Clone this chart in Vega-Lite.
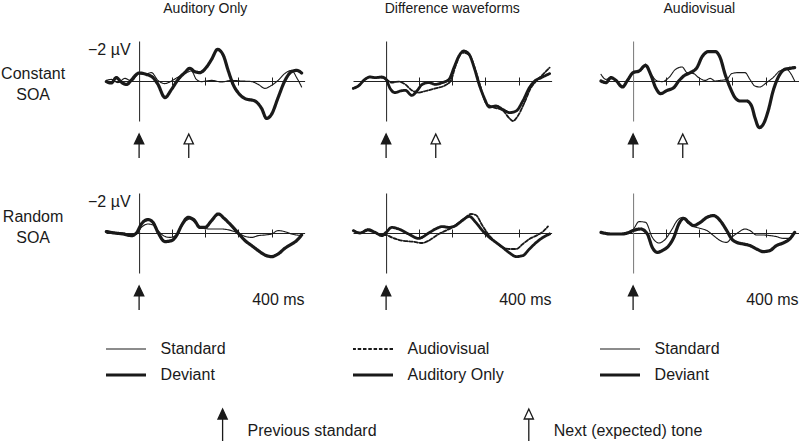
{
"$schema": "https://vega.github.io/schema/vega-lite/v6.json",
"padding": {"left": 0, "top": 2, "right": 0, "bottom": 0},
"autosize": {"type": "pad"},
"background": "white",
"config": {
  "font": "Liberation Sans",
  "view": {"stroke": null},
  "axis": {"labelFont": "Liberation Sans", "labelFontSize": 16, "labelColor": "#1a1a1a", "domainColor": "#222", "tickColor": "#222", "titleFont": "Liberation Sans", "titleFontSize": 16, "titleFontWeight": "normal", "titleColor": "#1a1a1a"},
  "text": {"font": "Liberation Sans", "fontSize": 16, "color": "#1a1a1a"},
  "title": {"font": "Liberation Sans", "fontSize": 14, "fontWeight": "normal", "color": "#1a1a1a", "offset": 25, "anchor": "middle"}
},
"datasets": {
  "arrows": [
    {"soa": "Constant", "kind": "Previous standard", "t": 0},
    {"soa": "Constant", "kind": "Next (expected) tone", "t": 150},
    {"soa": "Random", "kind": "Previous standard", "t": 0}
  ],
  "constant_auditory": [
    {"series":"Deviant","t":-99,"v":0.03},{"series":"Deviant","t":-84,"v":0.1},{"series":"Deviant","t":-69,"v":-0.17},{"series":"Deviant","t":-53,"v":0.07},{"series":"Deviant","t":-38,"v":0.17},{"series":"Deviant","t":-23,"v":-0.05},{"series":"Deviant","t":-10,"v":-0.3},{"series":"Deviant","t":0,"v":-0.4},{"series":"Deviant","t":22,"v":-0.33},{"series":"Deviant","t":42,"v":-0.17},{"series":"Deviant","t":57,"v":0.17},{"series":"Deviant","t":78,"v":0.83},{"series":"Deviant","t":98,"v":0.42},{"series":"Deviant","t":118,"v":-0.08},{"series":"Deviant","t":138,"v":-0.42},{"series":"Deviant","t":153,"v":-0.63},{"series":"Deviant","t":168,"v":-0.47},{"series":"Deviant","t":183,"v":-0.42},{"series":"Deviant","t":204,"v":-0.7},{"series":"Deviant","t":219,"v":-1.08},{"series":"Deviant","t":237,"v":-1.58},{"series":"Deviant","t":254,"v":-1.3},{"series":"Deviant","t":269,"v":-0.53},{"series":"Deviant","t":284,"v":0.17},{"series":"Deviant","t":299,"v":0.58},{"series":"Deviant","t":320,"v":0.88},{"series":"Deviant","t":350,"v":1.0},{"series":"Deviant","t":370,"v":1.37},{"series":"Deviant","t":385,"v":1.87},{"series":"Deviant","t":400,"v":1.67},{"series":"Deviant","t":420,"v":0.83},{"series":"Deviant","t":440,"v":0},{"series":"Deviant","t":461,"v":-0.47},{"series":"Deviant","t":476,"v":-0.53},{"series":"Deviant","t":491,"v":-0.4},
    {"series":"Standard","t":-99,"v":-0.03},{"series":"Standard","t":-84,"v":-0.08},{"series":"Standard","t":-64,"v":0.08},{"series":"Standard","t":-43,"v":-0.13},{"series":"Standard","t":-23,"v":0},{"series":"Standard","t":0,"v":-0.37},{"series":"Standard","t":17,"v":-0.33},{"series":"Standard","t":37,"v":-0.42},{"series":"Standard","t":57,"v":-0.03},{"series":"Standard","t":78,"v":0.13},{"series":"Standard","t":98,"v":0},{"series":"Standard","t":118,"v":-0.2},{"series":"Standard","t":138,"v":-0.37},{"series":"Standard","t":158,"v":-0.5},{"series":"Standard","t":173,"v":-0.08},{"series":"Standard","t":188,"v":0.03},{"series":"Standard","t":219,"v":-0.03},{"series":"Standard","t":249,"v":0.05},{"series":"Standard","t":279,"v":-0.03},{"series":"Standard","t":309,"v":0},{"series":"Standard","t":340,"v":0.03},{"series":"Standard","t":360,"v":0.17},{"series":"Standard","t":380,"v":0.37},{"series":"Standard","t":400,"v":0.22},{"series":"Standard","t":420,"v":-0.03},{"series":"Standard","t":440,"v":-0.37},{"series":"Standard","t":461,"v":-0.53},{"series":"Standard","t":476,"v":-0.17},{"series":"Standard","t":491,"v":0.3}
  ],
  "constant_difference": [
    {"series":"Auditory Only","t":-99,"v":0.37},{"series":"Auditory Only","t":-84,"v":0.25},{"series":"Auditory Only","t":-64,"v":-0.08},{"series":"Auditory Only","t":-49,"v":-0.2},{"series":"Auditory Only","t":-33,"v":-0.17},{"series":"Auditory Only","t":-13,"v":-0.2},{"series":"Auditory Only","t":0,"v":-0.08},{"series":"Auditory Only","t":12,"v":0.37},{"series":"Auditory Only","t":27,"v":0.58},{"series":"Auditory Only","t":43,"v":0.5},{"series":"Auditory Only","t":58,"v":0.47},{"series":"Auditory Only","t":78,"v":0.72},{"series":"Auditory Only","t":93,"v":0.5},{"series":"Auditory Only","t":109,"v":0.17},{"series":"Auditory Only","t":129,"v":0.08},{"series":"Auditory Only","t":149,"v":0.17},{"series":"Auditory Only","t":170,"v":0.08},{"series":"Auditory Only","t":190,"v":-0.08},{"series":"Auditory Only","t":205,"v":-0.67},{"series":"Auditory Only","t":220,"v":-1.25},{"series":"Auditory Only","t":235,"v":-1.5},{"series":"Auditory Only","t":251,"v":-1.33},{"series":"Auditory Only","t":266,"v":-0.67},{"series":"Auditory Only","t":281,"v":0.17},{"series":"Auditory Only","t":296,"v":0.83},{"series":"Auditory Only","t":312,"v":1.3},{"series":"Auditory Only","t":332,"v":1.25},{"series":"Auditory Only","t":352,"v":1.42},{"series":"Auditory Only","t":373,"v":1.58},{"series":"Auditory Only","t":393,"v":1.5},{"series":"Auditory Only","t":413,"v":1.0},{"series":"Auditory Only","t":433,"v":0.33},{"series":"Auditory Only","t":449,"v":0},{"series":"Auditory Only","t":469,"v":-0.17},{"series":"Auditory Only","t":494,"v":-0.37},
    {"series":"Audiovisual","t":-99,"v":0.37},{"series":"Audiovisual","t":-84,"v":0.25},{"series":"Audiovisual","t":-64,"v":-0.08},{"series":"Audiovisual","t":-49,"v":-0.2},{"series":"Audiovisual","t":-33,"v":-0.17},{"series":"Audiovisual","t":-13,"v":-0.17},{"series":"Audiovisual","t":0,"v":-0.08},{"series":"Audiovisual","t":17,"v":0.08},{"series":"Audiovisual","t":38,"v":0.03},{"series":"Audiovisual","t":58,"v":0.17},{"series":"Audiovisual","t":78,"v":0.47},{"series":"Audiovisual","t":98,"v":0.58},{"series":"Audiovisual","t":119,"v":0.5},{"series":"Audiovisual","t":149,"v":0.37},{"series":"Audiovisual","t":180,"v":0.2},{"series":"Audiovisual","t":195,"v":0},{"series":"Audiovisual","t":210,"v":-0.75},{"series":"Audiovisual","t":230,"v":-1.42},{"series":"Audiovisual","t":251,"v":-1.3},{"series":"Audiovisual","t":271,"v":-0.5},{"series":"Audiovisual","t":286,"v":0.33},{"series":"Audiovisual","t":301,"v":1.08},{"series":"Audiovisual","t":322,"v":1.3},{"series":"Audiovisual","t":352,"v":1.47},{"series":"Audiovisual","t":373,"v":1.87},{"series":"Audiovisual","t":383,"v":2.0},{"series":"Audiovisual","t":398,"v":1.75},{"series":"Audiovisual","t":418,"v":1.08},{"series":"Audiovisual","t":438,"v":0.33},{"series":"Audiovisual","t":454,"v":0},{"series":"Audiovisual","t":474,"v":-0.33},{"series":"Audiovisual","t":494,"v":-0.67}
  ],
  "constant_audiovisual": [
    {"series":"Deviant","t":-97,"v":0},{"series":"Deviant","t":-82,"v":0.08},{"series":"Deviant","t":-67,"v":-0.17},{"series":"Deviant","t":-52,"v":-0.03},{"series":"Deviant","t":-32,"v":0.3},{"series":"Deviant","t":-17,"v":-0.03},{"series":"Deviant","t":0,"v":-0.42},{"series":"Deviant","t":18,"v":-0.5},{"series":"Deviant","t":38,"v":-0.78},{"series":"Deviant","t":53,"v":-0.33},{"series":"Deviant","t":68,"v":0.33},{"series":"Deviant","t":83,"v":0.63},{"series":"Deviant","t":103,"v":0.47},{"series":"Deviant","t":123,"v":0.33},{"series":"Deviant","t":138,"v":0},{"series":"Deviant","t":153,"v":-0.25},{"series":"Deviant","t":173,"v":-0.42},{"series":"Deviant","t":193,"v":-0.67},{"series":"Deviant","t":208,"v":-1.2},{"series":"Deviant","t":228,"v":-1.47},{"series":"Deviant","t":248,"v":-1.47},{"series":"Deviant","t":263,"v":-1.17},{"series":"Deviant","t":278,"v":-0.33},{"series":"Deviant","t":293,"v":0.33},{"series":"Deviant","t":308,"v":0.83},{"series":"Deviant","t":323,"v":1.0},{"series":"Deviant","t":343,"v":1.0},{"series":"Deviant","t":358,"v":1.25},{"series":"Deviant","t":368,"v":1.83},{"series":"Deviant","t":381,"v":2.33},{"series":"Deviant","t":393,"v":2.17},{"series":"Deviant","t":408,"v":1.5},{"series":"Deviant","t":423,"v":0.5},{"series":"Deviant","t":438,"v":-0.17},{"series":"Deviant","t":458,"v":-0.58},{"series":"Deviant","t":473,"v":-0.63},{"series":"Deviant","t":488,"v":-0.67},
    {"series":"Standard","t":-97,"v":-0.33},{"series":"Standard","t":-82,"v":-0.08},{"series":"Standard","t":-67,"v":-0.17},{"series":"Standard","t":-52,"v":0},{"series":"Standard","t":-32,"v":0.25},{"series":"Standard","t":-17,"v":-0.03},{"series":"Standard","t":0,"v":-0.42},{"series":"Standard","t":18,"v":-0.53},{"series":"Standard","t":38,"v":-0.75},{"series":"Standard","t":58,"v":-0.25},{"series":"Standard","t":73,"v":0},{"series":"Standard","t":88,"v":0.03},{"series":"Standard","t":108,"v":-0.17},{"series":"Standard","t":128,"v":-0.58},{"series":"Standard","t":148,"v":-0.7},{"series":"Standard","t":163,"v":-0.42},{"series":"Standard","t":183,"v":-0.37},{"series":"Standard","t":198,"v":-0.17},{"series":"Standard","t":218,"v":-0.03},{"series":"Standard","t":233,"v":-0.13},{"series":"Standard","t":248,"v":0},{"series":"Standard","t":263,"v":-0.03},{"series":"Standard","t":283,"v":-0.08},{"series":"Standard","t":298,"v":-0.37},{"series":"Standard","t":318,"v":-0.42},{"series":"Standard","t":338,"v":-0.42},{"series":"Standard","t":353,"v":-0.08},{"series":"Standard","t":368,"v":0.25},{"series":"Standard","t":383,"v":0.3},{"series":"Standard","t":403,"v":0.08},{"series":"Standard","t":423,"v":-0.17},{"series":"Standard","t":443,"v":-0.5},{"series":"Standard","t":463,"v":-0.58},{"series":"Standard","t":478,"v":-0.33},{"series":"Standard","t":488,"v":0}
  ],
  "random_auditory": [
    {"series":"Deviant","t":-99,"v":-0.07},{"series":"Deviant","t":-74,"v":0},{"series":"Deviant","t":-48,"v":0.05},{"series":"Deviant","t":-23,"v":0.13},{"series":"Deviant","t":-8,"v":0},{"series":"Deviant","t":7,"v":-0.45},{"series":"Deviant","t":27,"v":-0.67},{"series":"Deviant","t":42,"v":-0.53},{"series":"Deviant","t":57,"v":-0.03},{"series":"Deviant","t":78,"v":0.43},{"series":"Deviant","t":98,"v":0.38},{"series":"Deviant","t":113,"v":0.13},{"series":"Deviant","t":128,"v":-0.37},{"series":"Deviant","t":148,"v":-0.78},{"series":"Deviant","t":168,"v":-0.62},{"series":"Deviant","t":183,"v":-0.28},{"series":"Deviant","t":199,"v":-0.28},{"series":"Deviant","t":219,"v":-0.62},{"series":"Deviant","t":239,"v":-0.95},{"series":"Deviant","t":259,"v":-0.7},{"series":"Deviant","t":279,"v":-0.37},{"series":"Deviant","t":299,"v":0},{"series":"Deviant","t":320,"v":0.38},{"series":"Deviant","t":340,"v":0.63},{"series":"Deviant","t":360,"v":0.88},{"series":"Deviant","t":380,"v":1.1},{"series":"Deviant","t":400,"v":1.18},{"series":"Deviant","t":420,"v":1.05},{"series":"Deviant","t":440,"v":0.77},{"series":"Deviant","t":461,"v":0.55},{"series":"Deviant","t":476,"v":0.38},{"series":"Deviant","t":491,"v":0.1},
    {"series":"Standard","t":-99,"v":-0.12},{"series":"Standard","t":-74,"v":-0.03},{"series":"Standard","t":-48,"v":0},{"series":"Standard","t":-23,"v":0.1},{"series":"Standard","t":-8,"v":0.05},{"series":"Standard","t":7,"v":-0.28},{"series":"Standard","t":27,"v":-0.45},{"series":"Standard","t":42,"v":-0.4},{"series":"Standard","t":57,"v":-0.12},{"series":"Standard","t":73,"v":0.13},{"series":"Standard","t":93,"v":0.22},{"series":"Standard","t":113,"v":0.1},{"series":"Standard","t":133,"v":-0.45},{"series":"Standard","t":153,"v":-0.7},{"series":"Standard","t":173,"v":-0.45},{"series":"Standard","t":194,"v":-0.23},{"series":"Standard","t":219,"v":-0.2},{"series":"Standard","t":249,"v":-0.2},{"series":"Standard","t":279,"v":-0.12},{"series":"Standard","t":299,"v":0},{"series":"Standard","t":320,"v":0.17},{"series":"Standard","t":340,"v":0.22},{"series":"Standard","t":360,"v":0.13},{"series":"Standard","t":380,"v":0.1},{"series":"Standard","t":400,"v":0.05},{"series":"Standard","t":420,"v":-0.12},{"series":"Standard","t":440,"v":-0.07},{"series":"Standard","t":461,"v":0.05},{"series":"Standard","t":491,"v":0.13}
  ],
  "random_difference": [
    {"series":"Auditory Only","t":-99,"v":-0.12},{"series":"Auditory Only","t":-79,"v":0},{"series":"Auditory Only","t":-54,"v":-0.17},{"series":"Auditory Only","t":-33,"v":-0.03},{"series":"Auditory Only","t":-13,"v":0.13},{"series":"Auditory Only","t":0,"v":-0.03},{"series":"Auditory Only","t":17,"v":-0.28},{"series":"Auditory Only","t":38,"v":-0.2},{"series":"Auditory Only","t":68,"v":0.05},{"series":"Auditory Only","t":98,"v":0.27},{"series":"Auditory Only","t":129,"v":0},{"series":"Auditory Only","t":149,"v":-0.2},{"series":"Auditory Only","t":170,"v":-0.32},{"series":"Auditory Only","t":190,"v":-0.28},{"series":"Auditory Only","t":210,"v":-0.37},{"series":"Auditory Only","t":230,"v":-0.62},{"series":"Auditory Only","t":251,"v":-0.83},{"series":"Auditory Only","t":271,"v":-0.53},{"series":"Auditory Only","t":291,"v":-0.12},{"series":"Auditory Only","t":312,"v":0.22},{"series":"Auditory Only","t":332,"v":0.47},{"series":"Auditory Only","t":352,"v":0.72},{"series":"Auditory Only","t":373,"v":1.0},{"series":"Auditory Only","t":393,"v":1.18},{"series":"Auditory Only","t":413,"v":1.13},{"series":"Auditory Only","t":433,"v":0.8},{"series":"Auditory Only","t":454,"v":0.47},{"series":"Auditory Only","t":474,"v":0.22},{"series":"Auditory Only","t":494,"v":0.05},
    {"series":"Audiovisual","t":-99,"v":-0.12},{"series":"Audiovisual","t":-79,"v":0},{"series":"Audiovisual","t":-54,"v":-0.12},{"series":"Audiovisual","t":-33,"v":0},{"series":"Audiovisual","t":-13,"v":0.1},{"series":"Audiovisual","t":0,"v":0.1},{"series":"Audiovisual","t":17,"v":0.22},{"series":"Audiovisual","t":48,"v":0.38},{"series":"Audiovisual","t":78,"v":0.43},{"series":"Audiovisual","t":109,"v":0.5},{"series":"Audiovisual","t":129,"v":0.38},{"series":"Audiovisual","t":159,"v":0.05},{"series":"Audiovisual","t":180,"v":-0.12},{"series":"Audiovisual","t":200,"v":-0.28},{"series":"Audiovisual","t":220,"v":-0.53},{"series":"Audiovisual","t":241,"v":-0.78},{"series":"Audiovisual","t":256,"v":-0.95},{"series":"Audiovisual","t":271,"v":-0.9},{"series":"Audiovisual","t":291,"v":-0.37},{"series":"Audiovisual","t":312,"v":0.13},{"series":"Audiovisual","t":332,"v":0.47},{"series":"Audiovisual","t":352,"v":0.72},{"series":"Audiovisual","t":373,"v":0.8},{"series":"Audiovisual","t":393,"v":0.8},{"series":"Audiovisual","t":413,"v":0.55},{"series":"Audiovisual","t":433,"v":0.3},{"series":"Audiovisual","t":454,"v":0.13},{"series":"Audiovisual","t":474,"v":-0.07},{"series":"Audiovisual","t":489,"v":-0.33}
  ],
  "random_audiovisual": [
    {"series":"Deviant","t":-97,"v":-0.03},{"series":"Deviant","t":-67,"v":0.05},{"series":"Deviant","t":-37,"v":0.05},{"series":"Deviant","t":-17,"v":0},{"series":"Deviant","t":0,"v":-0.12},{"series":"Deviant","t":23,"v":-0.2},{"series":"Deviant","t":43,"v":0.05},{"series":"Deviant","t":58,"v":0.72},{"series":"Deviant","t":73,"v":0.97},{"series":"Deviant","t":88,"v":0.88},{"series":"Deviant","t":108,"v":0.63},{"series":"Deviant","t":123,"v":0.22},{"series":"Deviant","t":138,"v":-0.45},{"series":"Deviant","t":153,"v":-0.73},{"series":"Deviant","t":168,"v":-0.53},{"series":"Deviant","t":183,"v":-0.37},{"series":"Deviant","t":203,"v":-0.53},{"series":"Deviant","t":223,"v":-0.78},{"series":"Deviant","t":243,"v":-0.87},{"series":"Deviant","t":263,"v":-0.62},{"series":"Deviant","t":283,"v":-0.12},{"series":"Deviant","t":298,"v":0.3},{"series":"Deviant","t":313,"v":0.47},{"series":"Deviant","t":333,"v":0.55},{"series":"Deviant","t":353,"v":0.63},{"series":"Deviant","t":373,"v":0.8},{"series":"Deviant","t":393,"v":0.93},{"series":"Deviant","t":413,"v":0.88},{"series":"Deviant","t":433,"v":0.63},{"series":"Deviant","t":453,"v":0.5},{"series":"Deviant","t":473,"v":0.3},{"series":"Deviant","t":488,"v":-0.03},
    {"series":"Standard","t":-97,"v":-0.07},{"series":"Standard","t":-67,"v":0.05},{"series":"Standard","t":-37,"v":0.05},{"series":"Standard","t":-17,"v":0},{"series":"Standard","t":0,"v":-0.17},{"series":"Standard","t":18,"v":-0.57},{"series":"Standard","t":38,"v":-0.53},{"series":"Standard","t":58,"v":0.22},{"series":"Standard","t":78,"v":0.5},{"series":"Standard","t":98,"v":0.3},{"series":"Standard","t":118,"v":-0.2},{"series":"Standard","t":133,"v":-0.62},{"series":"Standard","t":151,"v":-0.78},{"series":"Standard","t":163,"v":-0.53},{"series":"Standard","t":183,"v":-0.33},{"series":"Standard","t":203,"v":-0.23},{"series":"Standard","t":223,"v":-0.12},{"series":"Standard","t":243,"v":0.13},{"series":"Standard","t":263,"v":0.38},{"series":"Standard","t":283,"v":0.47},{"series":"Standard","t":298,"v":0.22},{"series":"Standard","t":318,"v":-0.03},{"series":"Standard","t":338,"v":-0.2},{"series":"Standard","t":353,"v":-0.12},{"series":"Standard","t":373,"v":0.1},{"series":"Standard","t":393,"v":0.1},{"series":"Standard","t":413,"v":0.13},{"series":"Standard","t":433,"v":0.18},{"series":"Standard","t":453,"v":0.27},{"series":"Standard","t":473,"v":0.27},{"series":"Standard","t":488,"v":-0.03}
  ]
},
"columns": 3,
"spacing": {"row": 72, "column": 48},
"align": "each",
"bounds": "flush",
"concat": [
 {"width": 198.6, "height": 80, "title": {"text": "Auditory Only"}, "resolve": {"axis": {"x": "independent"}},
  "layer": [
   {"data": {"name": "constant_auditory"},
    "mark": {"type": "line", "interpolate": "monotone", "color": "#1a1a1a", "strokeJoin": "round", "strokeCap": "round"},
    "encoding": {
     "x": {"field": "t", "type": "quantitative", "scale": {"domain": [-100, 500], "nice": false, "zero": false}, "axis": {"orient": "bottom", "offset": -40, "values": [100, 200, 300, 400], "labels": false, "title": null, "grid": false, "tickSize": 4}},
     "y": {"field": "v", "type": "quantitative", "scale": {"domain": [-2, 2], "reverse": true, "nice": false, "zero": false}, "axis": {"orient": "left", "offset": -33.1, "values": [-2], "ticks": false, "grid": false, "labelExpr": "datum.label + ' µV'", "labelBaseline": "top", "labelFlush": false, "labelPadding": 9, "title": ["Constant", "SOA"], "titleAngle": 0, "titleAlign": "center", "titleBaseline": "middle", "titleLineHeight": 21, "titleX": -106.5, "titleY": 32}},
     "strokeWidth": {"field": "series", "type": "nominal", "scale": {"type": "ordinal", "domain": ["Standard", "Audiovisual", "Auditory Only", "Deviant"], "range": [1.1, 1.8, 2.8, 3.2]}, "legend": null},
     "strokeDash": {"field": "series", "type": "nominal", "scale": {"domain": ["Standard", "Audiovisual", "Auditory Only", "Deviant"], "range": [[1, 0], [3.5, 1.8], [1, 0], [1, 0]]}, "legend": null}
    }},
   {"data": {"name": "arrows"}, "transform": [{"filter": "datum.soa === 'Constant'"}],
    "mark": {"type": "point", "shape": "M0,-1L0.39,-0.17L-0.39,-0.17Z M0,-0.17L0,1", "size": 576, "filled": true, "opacity": 1, "stroke": "#1a1a1a", "strokeWidth": 1.3},
    "encoding": {
     "x": {"field": "t", "type": "quantitative", "axis": {"orient": "top", "offset": -40, "values": [100, 200, 300, 400], "labels": false, "domain": false, "title": null, "grid": false, "tickSize": 4}},
     "y": {"datum": 3.25},
     "fill": {"field": "kind", "type": "nominal", "scale": {"domain": ["Previous standard", "Next (expected) tone"], "range": ["#1a1a1a", "white"]}, "legend": null}
    }}
  ]},
 {"width": 198.6, "height": 80, "title": {"text": "Difference waveforms"}, "resolve": {"axis": {"x": "independent"}},
  "layer": [
   {"data": {"name": "constant_difference"},
    "mark": {"type": "line", "interpolate": "monotone", "color": "#1a1a1a", "strokeJoin": "round", "strokeCap": "round"},
    "encoding": {
     "x": {"field": "t", "type": "quantitative", "scale": {"domain": [-100, 500], "nice": false, "zero": false}, "axis": {"orient": "bottom", "offset": -40, "values": [100, 200, 300, 400], "labels": false, "title": null, "grid": false, "tickSize": 4}},
     "y": {"field": "v", "type": "quantitative", "scale": {"domain": [-2, 2], "reverse": true, "nice": false, "zero": false}, "axis": {"orient": "left", "offset": -33.1, "values": [-2], "ticks": false, "labels": false, "grid": false, "title": null}},
     "strokeWidth": {"field": "series", "type": "nominal", "scale": {"type": "ordinal", "domain": ["Standard", "Audiovisual", "Auditory Only", "Deviant"], "range": [1.1, 1.8, 2.8, 3.2]}, "legend": null},
     "strokeDash": {"field": "series", "type": "nominal", "scale": {"domain": ["Standard", "Audiovisual", "Auditory Only", "Deviant"], "range": [[1, 0], [3.5, 1.8], [1, 0], [1, 0]]}, "legend": null}
    }},
   {"data": {"name": "arrows"}, "transform": [{"filter": "datum.soa === 'Constant'"}],
    "mark": {"type": "point", "shape": "M0,-1L0.39,-0.17L-0.39,-0.17Z M0,-0.17L0,1", "size": 576, "filled": true, "opacity": 1, "stroke": "#1a1a1a", "strokeWidth": 1.3},
    "encoding": {
     "x": {"field": "t", "type": "quantitative", "axis": {"orient": "top", "offset": -40, "values": [100, 200, 300, 400], "labels": false, "domain": false, "title": null, "grid": false, "tickSize": 4}},
     "y": {"datum": 3.25},
     "fill": {"field": "kind", "type": "nominal", "scale": {"domain": ["Previous standard", "Next (expected) tone"], "range": ["#1a1a1a", "white"]}, "legend": null}
    }}
  ]},
 {"width": 198.6, "height": 80, "title": {"text": "Audiovisual"}, "resolve": {"axis": {"x": "independent"}},
  "layer": [
   {"data": {"name": "constant_audiovisual"},
    "mark": {"type": "line", "interpolate": "monotone", "color": "#1a1a1a", "strokeJoin": "round", "strokeCap": "round"},
    "encoding": {
     "x": {"field": "t", "type": "quantitative", "scale": {"domain": [-100, 500], "nice": false, "zero": false}, "axis": {"orient": "bottom", "offset": -40, "values": [100, 200, 300, 400], "labels": false, "title": null, "grid": false, "tickSize": 4}},
     "y": {"field": "v", "type": "quantitative", "scale": {"domain": [-2, 2], "reverse": true, "nice": false, "zero": false}, "axis": {"orient": "left", "offset": -33.1, "values": [-2], "ticks": false, "labels": false, "grid": false, "title": null, "domainColor": "#777"}},
     "strokeWidth": {"field": "series", "type": "nominal", "scale": {"type": "ordinal", "domain": ["Standard", "Audiovisual", "Auditory Only", "Deviant"], "range": [1.1, 1.8, 2.8, 3.2]}, "legend": null},
     "strokeDash": {"field": "series", "type": "nominal", "scale": {"domain": ["Standard", "Audiovisual", "Auditory Only", "Deviant"], "range": [[1, 0], [3.5, 1.8], [1, 0], [1, 0]]}, "legend": null}
    }},
   {"data": {"name": "arrows"}, "transform": [{"filter": "datum.soa === 'Constant'"}],
    "mark": {"type": "point", "shape": "M0,-1L0.39,-0.17L-0.39,-0.17Z M0,-0.17L0,1", "size": 576, "filled": true, "opacity": 1, "stroke": "#1a1a1a", "strokeWidth": 1.3},
    "encoding": {
     "x": {"field": "t", "type": "quantitative", "axis": {"orient": "top", "offset": -40, "values": [100, 200, 300, 400], "labels": false, "domain": false, "title": null, "grid": false, "tickSize": 4}},
     "y": {"datum": 3.25},
     "fill": {"field": "kind", "type": "nominal", "scale": {"domain": ["Previous standard", "Next (expected) tone"], "range": ["#1a1a1a", "white"]}, "legend": null}
    }}
  ]},
 {"width": 198.6, "height": 80, "resolve": {"axis": {"x": "independent"}},
  "layer": [
   {"data": {"name": "random_auditory"},
    "mark": {"type": "line", "interpolate": "monotone", "color": "#1a1a1a", "strokeJoin": "round", "strokeCap": "round"},
    "encoding": {
     "x": {"field": "t", "type": "quantitative", "scale": {"domain": [-100, 500], "nice": false, "zero": false}, "axis": {"orient": "bottom", "offset": -40, "values": [100, 200, 300, 400], "labels": false, "title": null, "grid": false, "tickSize": 4}},
     "y": {"field": "v", "type": "quantitative", "scale": {"domain": [-2, 2], "reverse": true, "nice": false, "zero": false}, "axis": {"orient": "left", "offset": -33.1, "values": [-2], "ticks": false, "grid": false, "labelExpr": "datum.label + ' µV'", "labelBaseline": "top", "labelFlush": false, "labelPadding": 9, "title": ["Random", "SOA"], "titleAngle": 0, "titleAlign": "center", "titleBaseline": "middle", "titleLineHeight": 21, "titleX": -106.5, "titleY": 23}},
     "strokeWidth": {"field": "series", "type": "nominal", "scale": {"type": "ordinal", "domain": ["Standard", "Audiovisual", "Auditory Only", "Deviant"], "range": [1.1, 1.8, 2.8, 3.2]}, "legend": null},
     "strokeDash": {"field": "series", "type": "nominal", "scale": {"domain": ["Standard", "Audiovisual", "Auditory Only", "Deviant"], "range": [[1, 0], [3.5, 1.8], [1, 0], [1, 0]]}, "legend": null}
    }},
   {"data": {"name": "arrows"}, "transform": [{"filter": "datum.soa === 'Random'"}],
    "mark": {"type": "point", "shape": "M0,-1L0.39,-0.17L-0.39,-0.17Z M0,-0.17L0,1", "size": 576, "filled": true, "opacity": 1, "stroke": "#1a1a1a", "strokeWidth": 1.3},
    "encoding": {
     "x": {"field": "t", "type": "quantitative", "axis": {"orient": "top", "offset": -40, "values": [100, 200, 300, 400], "labels": false, "domain": false, "title": null, "grid": false, "tickSize": 4}},
     "y": {"datum": 3.25},
     "fill": {"field": "kind", "type": "nominal", "scale": {"domain": ["Previous standard", "Next (expected) tone"], "range": ["#1a1a1a", "white"]}, "legend": null}
    }},
   {"data": {"values": [{"label": "400 ms"}]},
    "mark": {"type": "text", "align": "right", "baseline": "middle"},
    "encoding": {"x": {"datum": 500, "axis": null}, "y": {"datum": 3.35}, "text": {"field": "label"}}}
  ]},
 {"width": 198.6, "height": 80, "resolve": {"axis": {"x": "independent"}},
  "layer": [
   {"data": {"name": "random_difference"},
    "mark": {"type": "line", "interpolate": "monotone", "color": "#1a1a1a", "strokeJoin": "round", "strokeCap": "round"},
    "encoding": {
     "x": {"field": "t", "type": "quantitative", "scale": {"domain": [-100, 500], "nice": false, "zero": false}, "axis": {"orient": "bottom", "offset": -40, "values": [100, 200, 300, 400], "labels": false, "title": null, "grid": false, "tickSize": 4}},
     "y": {"field": "v", "type": "quantitative", "scale": {"domain": [-2, 2], "reverse": true, "nice": false, "zero": false}, "axis": {"orient": "left", "offset": -33.1, "values": [-2], "ticks": false, "labels": false, "grid": false, "title": null}},
     "strokeWidth": {"field": "series", "type": "nominal", "scale": {"type": "ordinal", "domain": ["Standard", "Audiovisual", "Auditory Only", "Deviant"], "range": [1.1, 1.8, 2.8, 3.2]}, "legend": null},
     "strokeDash": {"field": "series", "type": "nominal", "scale": {"domain": ["Standard", "Audiovisual", "Auditory Only", "Deviant"], "range": [[1, 0], [3.5, 1.8], [1, 0], [1, 0]]}, "legend": null}
    }},
   {"data": {"name": "arrows"}, "transform": [{"filter": "datum.soa === 'Random'"}],
    "mark": {"type": "point", "shape": "M0,-1L0.39,-0.17L-0.39,-0.17Z M0,-0.17L0,1", "size": 576, "filled": true, "opacity": 1, "stroke": "#1a1a1a", "strokeWidth": 1.3},
    "encoding": {
     "x": {"field": "t", "type": "quantitative", "axis": {"orient": "top", "offset": -40, "values": [100, 200, 300, 400], "labels": false, "domain": false, "title": null, "grid": false, "tickSize": 4}},
     "y": {"datum": 3.25},
     "fill": {"field": "kind", "type": "nominal", "scale": {"domain": ["Previous standard", "Next (expected) tone"], "range": ["#1a1a1a", "white"]}, "legend": null}
    }},
   {"data": {"values": [{"label": "400 ms"}]},
    "mark": {"type": "text", "align": "right", "baseline": "middle"},
    "encoding": {"x": {"datum": 500, "axis": null}, "y": {"datum": 3.35}, "text": {"field": "label"}}}
  ]},
 {"width": 198.6, "height": 80, "resolve": {"axis": {"x": "independent"}},
  "layer": [
   {"data": {"name": "random_audiovisual"},
    "mark": {"type": "line", "interpolate": "monotone", "color": "#1a1a1a", "strokeJoin": "round", "strokeCap": "round"},
    "encoding": {
     "x": {"field": "t", "type": "quantitative", "scale": {"domain": [-100, 500], "nice": false, "zero": false}, "axis": {"orient": "bottom", "offset": -40, "values": [100, 200, 300, 400], "labels": false, "title": null, "grid": false, "tickSize": 4}},
     "y": {"field": "v", "type": "quantitative", "scale": {"domain": [-2, 2], "reverse": true, "nice": false, "zero": false}, "axis": {"orient": "left", "offset": -33.1, "values": [-2], "ticks": false, "labels": false, "grid": false, "title": null, "domainColor": "#777"}},
     "strokeWidth": {"field": "series", "type": "nominal", "scale": {"type": "ordinal", "domain": ["Standard", "Audiovisual", "Auditory Only", "Deviant"], "range": [1.1, 1.8, 2.8, 3.2]}, "legend": null},
     "strokeDash": {"field": "series", "type": "nominal", "scale": {"domain": ["Standard", "Audiovisual", "Auditory Only", "Deviant"], "range": [[1, 0], [3.5, 1.8], [1, 0], [1, 0]]}, "legend": null}
    }},
   {"data": {"name": "arrows"}, "transform": [{"filter": "datum.soa === 'Random'"}],
    "mark": {"type": "point", "shape": "M0,-1L0.39,-0.17L-0.39,-0.17Z M0,-0.17L0,1", "size": 576, "filled": true, "opacity": 1, "stroke": "#1a1a1a", "strokeWidth": 1.3},
    "encoding": {
     "x": {"field": "t", "type": "quantitative", "axis": {"orient": "top", "offset": -40, "values": [100, 200, 300, 400], "labels": false, "domain": false, "title": null, "grid": false, "tickSize": 4}},
     "y": {"datum": 3.25},
     "fill": {"field": "kind", "type": "nominal", "scale": {"domain": ["Previous standard", "Next (expected) tone"], "range": ["#1a1a1a", "white"]}, "legend": null}
    }},
   {"data": {"values": [{"label": "400 ms"}]},
    "mark": {"type": "text", "align": "right", "baseline": "middle"},
    "encoding": {"x": {"datum": 500, "axis": null}, "y": {"datum": 3.35}, "text": {"field": "label"}}}
  ]},
 {"width": 40, "height": 34,
  "layer": [
   {"data": {"values": [{"series": "Standard"}, {"series": "Deviant"}]},
    "mark": {"type": "rule", "color": "#1a1a1a"},
    "encoding": {
     "y": {"field": "series", "type": "nominal", "sort": null, "scale": {"type": "point", "padding": 0.154}, "axis": null},
     "strokeWidth": {"field": "series", "type": "nominal", "scale": {"type": "ordinal", "domain": ["Standard", "Audiovisual", "Auditory Only", "Deviant"], "range": [1.1, 1.8, 2.8, 3.2]}, "legend": null},
     "strokeDash": {"field": "series", "type": "nominal", "scale": {"domain": ["Standard", "Audiovisual", "Auditory Only", "Deviant"], "range": [[1, 0], [3.5, 1.8], [1, 0], [1, 0]]}, "legend": null}}},
   {"data": {"values": [{"series": "Standard"}, {"series": "Deviant"}]},
    "mark": {"type": "text", "align": "left", "baseline": "middle", "dx": 34.6},
    "encoding": {"y": {"field": "series", "type": "nominal", "sort": null, "axis": null}, "text": {"field": "series"}}},
   {"data": {"values": [{"kind": "Previous standard"}]},
    "mark": {"type": "point", "shape": "M0,-1L0.29,-0.375L-0.29,-0.375Z M0,-0.375L0,1", "size": 1024, "filled": true, "opacity": 1, "stroke": "#1a1a1a", "strokeWidth": 1.3, "xOffset": 96.6, "yOffset": 63},
    "encoding": {"fill": {"field": "kind", "type": "nominal", "scale": {"domain": ["Previous standard", "Next (expected) tone"], "range": ["#1a1a1a", "white"]}, "legend": null}}},
   {"data": {"values": [{"kind": "Previous standard"}]},
    "mark": {"type": "text", "align": "left", "baseline": "middle", "dx": 121.6, "dy": 69},
    "encoding": {"text": {"field": "kind"}}}
  ]},
 {"width": 40, "height": 34,
  "layer": [
   {"data": {"values": [{"series": "Audiovisual"}, {"series": "Auditory Only"}]},
    "mark": {"type": "rule", "color": "#1a1a1a"},
    "encoding": {
     "y": {"field": "series", "type": "nominal", "sort": null, "scale": {"type": "point", "padding": 0.154}, "axis": null},
     "strokeWidth": {"field": "series", "type": "nominal", "scale": {"type": "ordinal", "domain": ["Standard", "Audiovisual", "Auditory Only", "Deviant"], "range": [1.1, 1.8, 2.8, 3.2]}, "legend": null},
     "strokeDash": {"field": "series", "type": "nominal", "scale": {"domain": ["Standard", "Audiovisual", "Auditory Only", "Deviant"], "range": [[1, 0], [3.5, 1.8], [1, 0], [1, 0]]}, "legend": null}}},
   {"data": {"values": [{"series": "Audiovisual"}, {"series": "Auditory Only"}]},
    "mark": {"type": "text", "align": "left", "baseline": "middle", "dx": 34.6},
    "encoding": {"y": {"field": "series", "type": "nominal", "sort": null, "axis": null}, "text": {"field": "series"}}},
   {"data": {"values": [{"kind": "Next (expected) tone"}]},
    "mark": {"type": "point", "shape": "M0,-1L0.29,-0.375L-0.29,-0.375Z M0,-0.375L0,1", "size": 1024, "filled": true, "opacity": 1, "stroke": "#1a1a1a", "strokeWidth": 1.3, "xOffset": 155.8, "yOffset": 63},
    "encoding": {"fill": {"field": "kind", "type": "nominal", "scale": {"domain": ["Previous standard", "Next (expected) tone"], "range": ["#1a1a1a", "white"]}, "legend": null}}},
   {"data": {"values": [{"kind": "Next (expected) tone"}]},
    "mark": {"type": "text", "align": "left", "baseline": "middle", "dx": 180.8, "dy": 69},
    "encoding": {"text": {"field": "kind"}}}
  ]},
 {"width": 40, "height": 34,
  "layer": [
   {"data": {"values": [{"series": "Standard"}, {"series": "Deviant"}]},
    "mark": {"type": "rule", "color": "#1a1a1a"},
    "encoding": {
     "y": {"field": "series", "type": "nominal", "sort": null, "scale": {"type": "point", "padding": 0.154}, "axis": null},
     "strokeWidth": {"field": "series", "type": "nominal", "scale": {"type": "ordinal", "domain": ["Standard", "Audiovisual", "Auditory Only", "Deviant"], "range": [1.1, 1.8, 2.8, 3.2]}, "legend": null},
     "strokeDash": {"field": "series", "type": "nominal", "scale": {"domain": ["Standard", "Audiovisual", "Auditory Only", "Deviant"], "range": [[1, 0], [3.5, 1.8], [1, 0], [1, 0]]}, "legend": null}}},
   {"data": {"values": [{"series": "Standard"}, {"series": "Deviant"}]},
    "mark": {"type": "text", "align": "left", "baseline": "middle", "dx": 34.6},
    "encoding": {"y": {"field": "series", "type": "nominal", "sort": null, "axis": null}, "text": {"field": "series"}}}
  ]}
]
}
